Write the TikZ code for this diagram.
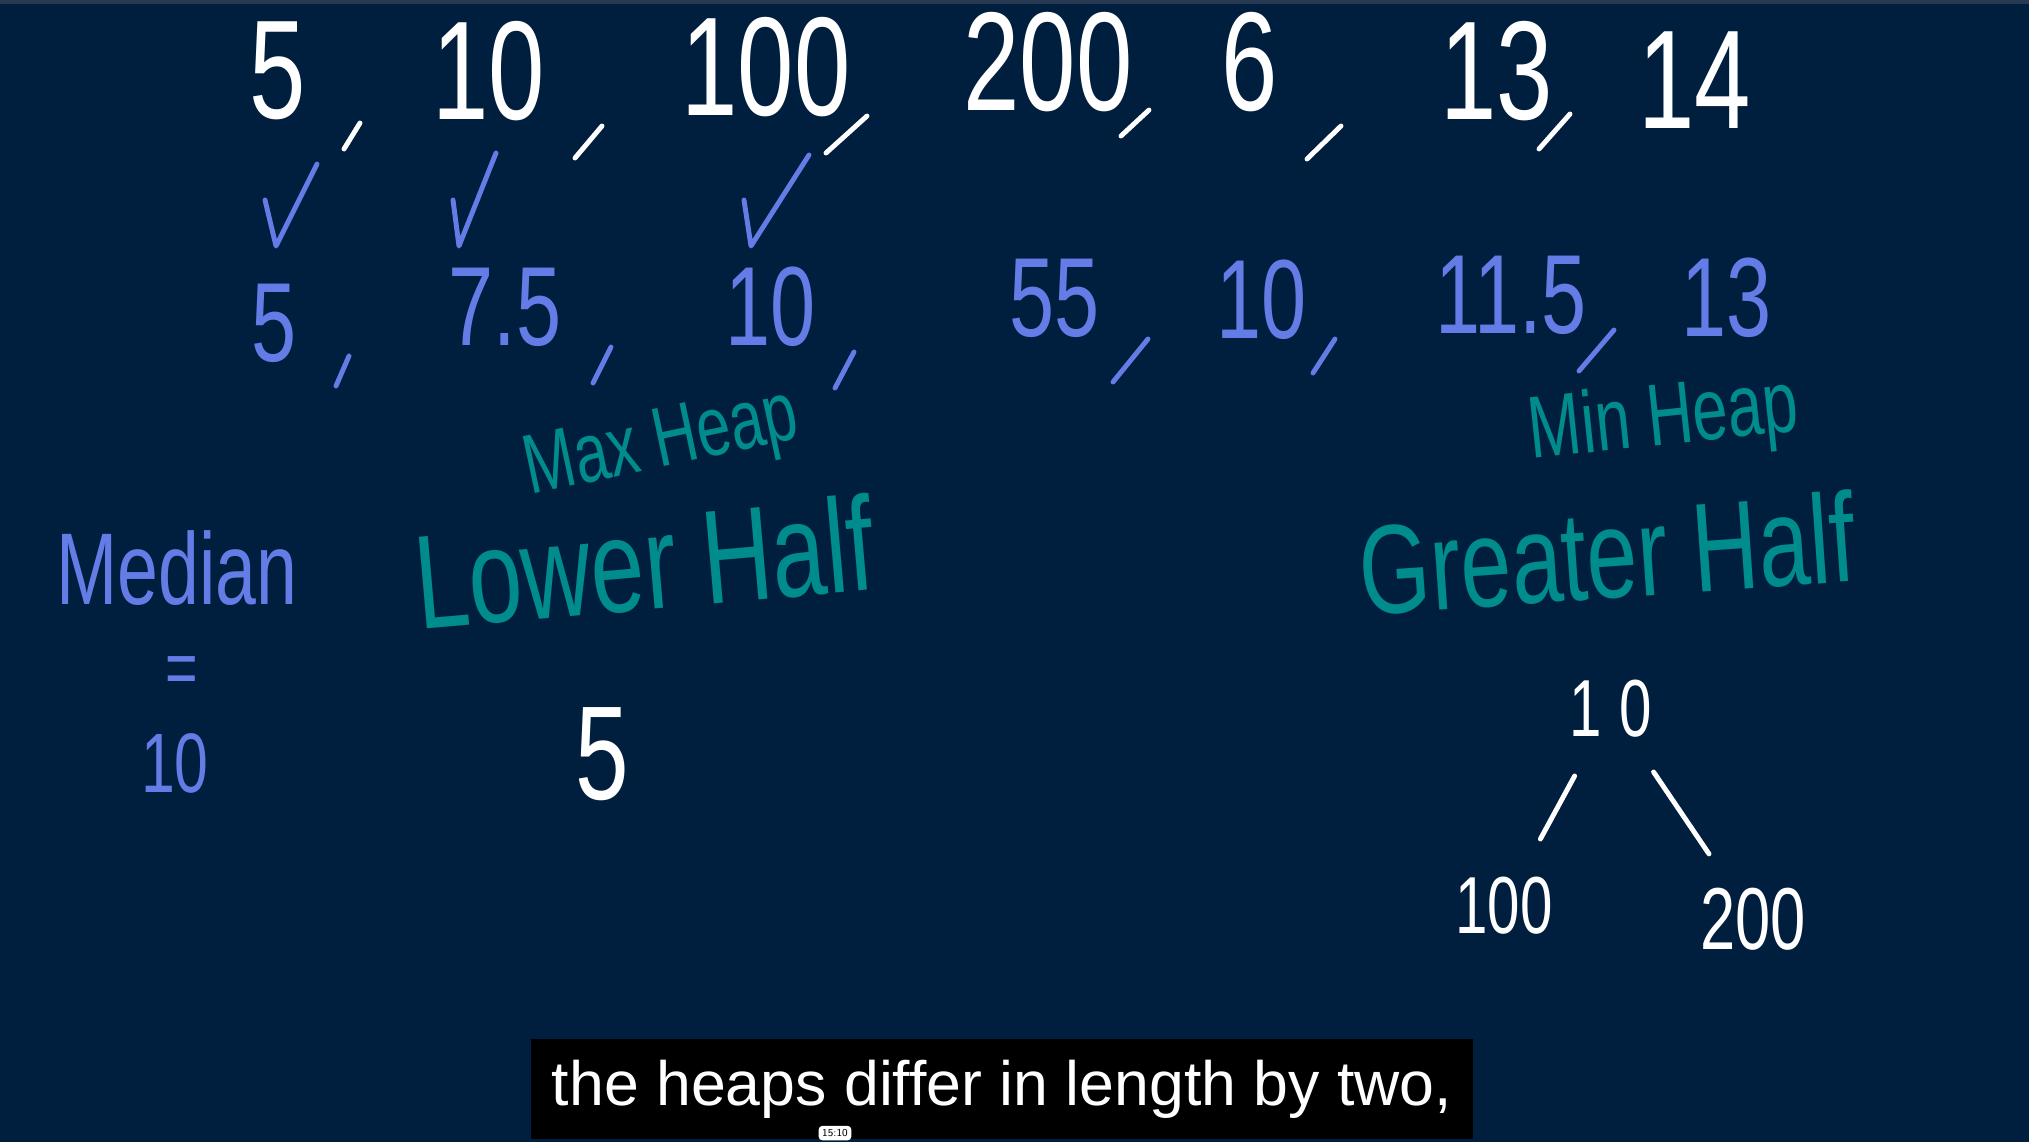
\documentclass[tikz,border=0pt]{standalone}
\usepackage{fontspec}
\usetikzlibrary{calc}
\newfontfamily\hand[FakeStretch=0.72]{Liberation Sans}
\newfontfamily\capfont{Liberation Sans}
\definecolor{boardbg}{RGB}{0,30,62}
\definecolor{topbar}{RGB}{40,58,82}
\definecolor{inkB}{RGB}{100,125,230}
\definecolor{inkT}{RGB}{0,140,140}

\begin{document}
\begin{tikzpicture}[x=0.01cm, y=-0.01cm,
    ink/.style={font=\hand\fontsize{#1}{#1}\selectfont, inner sep=0pt},
    wnum/.style={ink=40, text=white},
    bnum/.style={ink=32, text=inkB},
    tnum/.style={ink=23, text=white},
    stroke/.style={line width=1.4pt, line cap=round, line join=round},
    subcap/.style={fill=black, text=white, minimum width=9.41cm, minimum height=1.0cm,
                   font=\capfont\fontsize{17.8}{17.8}\selectfont}
  ]
  \fill[boardbg] (0,0) rectangle (2029,1142);
  \useasboundingbox (0,0) rectangle (2029,1142);
  \fill[topbar] (0,0) rectangle (2029,4);

  % input stream
  \foreach \n/\x/\y/\v in {t5/278/71/5, t10/489/71/10, t100/766/67/100, t200/1048/62/200,
                           t6/1250/62/6, t13/1497/71/13, t14/1695/80/14} {
    \node[wnum] (\n) at (\x,\y) {\v};
  }
  \foreach \xa/\ya/\xb/\yb in {360/123/344/149, 602/126/575/158, 867/116/826/153,
                               1149/110/1121/136, 1341/126/1307/159, 1570/114/1539/149} {
    \draw[stroke, white] (\xa,\ya) -- (\xb,\yb);
  }

  % ticks
  \foreach \xa/\xb/\xc/\yc in {265/276/317/164, 453/459/496/153, 744/751/809/155} {
    \draw[stroke, inkB] (\xa,200) -- (\xb,246) -- (\xc,\yc);
  }

  % running medians
  \foreach \n/\x/\y/\v in {m1/274/323/5, m2/505/307/7.5, m3/771/307/10, m4/1055/298/55,
                           m5/1262/300/10, m6/1511/295/11.5, m7/1727/298/13} {
    \node[bnum] (\n) at (\x,\y) {\v};
  }
  \foreach \xa/\ya/\xb/\yb in {349/356/336/386, 611/347/593/383, 854/352/835/388,
                               1148/339/1113/382, 1335/339/1313/373, 1614/330/1579/371} {
    \draw[stroke, inkB] (\xa,\ya) -- (\xb,\yb);
  }

  % heap labels
  \node[ink=24, text=inkT, rotate=12] (maxheap) at (662,446) {Max Heap};
  \node[ink=38, text=inkT, rotate=5] (lowhalf) at (644,562) {Lower Half};
  \node[ink=25, text=inkT, rotate=6] (minheap) at (1664,422) {Min Heap};
  \node[ink=36, text=inkT, rotate=4] (greathalf) at (1607,553) {Greater Half};

  % median
  \node[ink=29, text=inkB] (median) at (177,568) {Median};
  \node[ink=22, text=inkB] (eq) at (182,676) {=};
  \node[ink=24, text=inkB] (medval) at (175,763) {10};

  % lower half heap
  \node[ink=38, text=white] (low5) at (602,754) {5};

  % greater half heap
  \node[tnum] (root) at (1611,709) {1\kern5pt0};
  \node[tnum] (left) at (1504,906) {100};
  \node[ink=25, text=white] (right) at (1753,919) {200};
  \draw[stroke, white] ($(root)!0.34!(left)$) -- ($(root)!0.66!(left)$);
  \draw[stroke, white] ($(root)!0.30!(right)$) -- ($(root)!0.69!(right)$);

  % caption
  \node[subcap] (caption) at (1002,1089) {the heaps differ in length by two,};
  \node[fill=white, rounded corners=1pt, inner sep=1pt, font=\sffamily\fontsize{3}{3}\selectfont,
        anchor=south] (stamp) at (835,1141) {15:10};
\end{tikzpicture}
\end{document}
